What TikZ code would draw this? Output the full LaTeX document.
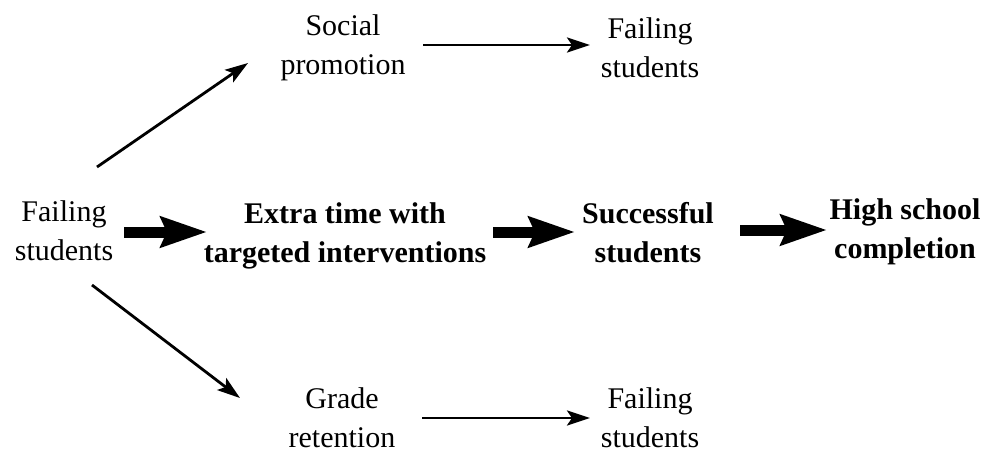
\documentclass[tikz,border=0pt]{standalone}
\usepackage{fontspec}
\setmainfont{Liberation Serif}
\usetikzlibrary{arrows.meta,calc}
\begin{document}
\begin{tikzpicture}[x=1pt,y=-1pt,
  lbl/.style={align=center, inner sep=0pt, anchor=base, font=\fontsize{30}{39}\selectfont},
  blbl/.style={lbl, font=\fontsize{30}{39}\selectfont\bfseries},
  thinarrow/.style={line width=2.8pt, -{Stealth[length=23pt,width=15pt,inset=5pt]}},
  thickarrow/.style={line width=11pt, -{Stealth[length=46pt,width=30pt,inset=6pt]}}]
\useasboundingbox (0,0) rectangle (986,453);
\node[lbl] (fs) at (64,260) {Failing\\students};
\node[lbl] (sp) at (343,74) {Social\\promotion};
\node[lbl] (ft) at (650,77) {Failing\\students};
\node[blbl] (ext) at (345,262) {Extra time with\\targeted interventions};
\node[blbl] (ss) at (648,262) {Successful\\students};
\node[blbl] (hs) at (905,258) {High school\\completion};
\node[lbl] (gr) at (342,447) {Grade\\retention};
\node[lbl] (fb) at (650,447) {Failing\\students};
\draw[thinarrow] ($(fs.base)+(33,-93)$) -- ($(sp.base)+(-95,-11)$);
\draw[thinarrow] ($(fs.base)+(28,25)$) -- ($(gr.base)+(-102,-49)$);
\draw[thinarrow] ($(sp.base)+(80,-29)$) -- ($(ft.base)+(-60,-32)$);
\draw[thinarrow] ($(gr.base)+(80,-29)$) -- ($(fb.base)+(-60,-29)$);
\draw[thickarrow] ($(fs.base)+(60,-28)$) -- ($(ext.base)+(-138,-30)$);
\draw[thickarrow] ($(ext.base)+(148,-30)$) -- ($(ss.base)+(-73,-30)$);
\draw[thickarrow] ($(ss.base)+(92,-32)$) -- ($(hs.base)+(-78,-28)$);
\end{tikzpicture}
\end{document}
